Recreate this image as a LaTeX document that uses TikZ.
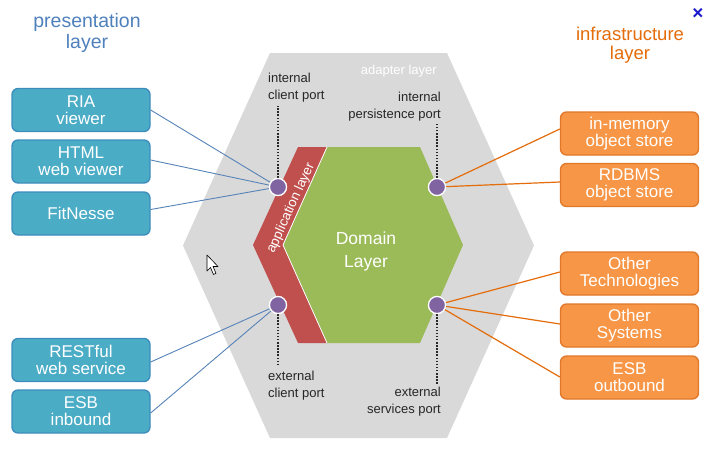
\documentclass[tikz,border=0pt]{standalone}
\usepackage{fontspec}
\setmainfont{Liberation Sans}
\usetikzlibrary{shapes.geometric}
\definecolor{hexgray}{HTML}{D9D9D9}
\definecolor{domgreen}{HTML}{9BBB59}
\definecolor{appred}{HTML}{C0504D}
\definecolor{portpurple}{HTML}{8064A2}
\definecolor{bluefill}{HTML}{4BACC6}
\definecolor{blueedge}{HTML}{3C8DBC}
\definecolor{orangefill}{HTML}{F79646}
\definecolor{orangeedge}{HTML}{E0782A}
\definecolor{blueline}{HTML}{5683B8}
\definecolor{orangeline}{HTML}{E46C0A}
\definecolor{titleblue}{HTML}{4F81BD}
\definecolor{titleorange}{HTML}{E46C0A}
\definecolor{closeblue}{HTML}{1A1ACC}
\tikzset{
  boxbase/.style={rounded corners=6pt, line width=1.3pt, minimum width=138pt, minimum height=43pt,
    text=white, align=center, font=\fontsize{17}{17}\selectfont, inner sep=0pt},
  bluebox/.style={boxbase, fill=bluefill, draw=blueedge},
  orangebox/.style={boxbase, fill=orangefill, draw=orangeedge},
  port/.style={circle, fill=portpurple, draw=white, line width=1.2pt, minimum size=17pt, inner sep=0pt},
  bluecon/.style={draw=blueline, line width=0.9pt},
  orangecon/.style={draw=orangeline, line width=1.2pt},
  portlabel/.style={font=\fontsize{13}{17}\selectfont, inner sep=0pt, text=black!85},
  dotline/.style={line width=1.3pt, dash pattern=on 1.5pt off 1.6pt, black!85},
  title/.style={align=center, inner sep=0pt}
}
\begin{document}
\begin{tikzpicture}[x=1pt,y=-1pt]
\useasboundingbox (0,0) rectangle (712,453);
\fill[white] (0,0) rectangle (712,453);
% adapter hexagon
\fill[hexgray] (270,53) -- (447,53) -- (534,245.5) -- (447,438) -- (270,438) -- (183,245.5) -- cycle;
\node[font=\fontsize{13}{14}\selectfont, text=white, anchor=base east, inner sep=0pt] (adapter) at (437,74) {adapter layer};
% domain hexagon
\fill[domgreen] (327,147) -- (420,147) -- (463,245) -- (420,343) -- (327,343) -- (283,245) -- cycle;
% application layer band
\fill[appred] (298,147) -- (327,147) -- (283,245) -- (327,343) -- (298,343) -- (253,245) -- cycle;
\draw[white, line width=0.8pt] (327,147) -- (283,245) -- (327,343);
\node[rotate=65.5, text=white, font=\fontsize{13.5}{15}\selectfont, inner sep=0pt] (applabel) at (291,208) {application layer};
\node[text=white, align=center, font=\fontsize{17.5}{23}\selectfont, inner sep=0pt] (domain) at (366,251) {Domain\\Layer};
% ports
\node[port] (pTL) at (278,187) {};
\node[port] (pTR) at (437,187) {};
\node[port] (pBL) at (278,305) {};
\node[port] (pBR) at (437,305) {};
% port labels
\node[portlabel, align=left, anchor=north west] (lTL) at (268,73) {internal\\client port};
\node[portlabel, align=right, anchor=north east] (lTR) at (441,92) {internal\\persistence port};
\node[portlabel, align=left, anchor=north west] (lBL) at (268,371) {external\\client port};
\node[portlabel, align=right, anchor=north east] (lBR) at (441,387) {external\\services port};
\coordinate (dTL) at (278,106);
\coordinate (dTR) at (437,124);
\coordinate (dBL) at (278,366);
\coordinate (dBR) at (437,384);
\draw[dotline] (pTL.north) -- (dTL);
\draw[dotline] (pTR.north) -- (dTR);
\draw[dotline] (pBL.south) -- (dBL);
\draw[dotline] (pBR.south) -- (dBR);
% titles
\node[title, text=titleblue, font=\fontsize{19.5}{20.5}\selectfont] (ptitle) at (87,33) {presentation\\layer};
\node[title, text=titleorange, font=\fontsize{18.5}{19}\selectfont] (ititle) at (630,45) {infrastructure\\layer};
\node[text=closeblue, font=\fontsize{19}{19}\selectfont\bfseries, inner sep=0pt] (close) at (698,14) {×};
% left boxes
\node[bluebox] (ria) at (81,110) {RIA\\viewer};
\node[bluebox] (html) at (81,161.5) {HTML\\web viewer};
\node[bluebox] (fit) at (81,213.5) {FitNesse};
\node[bluebox] (rest) at (81,360) {RESTful\\web service};
\node[bluebox] (esbin) at (81,411.5) {ESB\\inbound};
% right boxes
\node[orangebox] (mem) at (629.5,133.5) {in-memory\\object store};
\node[orangebox] (rdb) at (629.5,185) {RDBMS\\object store};
\node[orangebox] (tech) at (629.5,273.5) {Other\\Technologies};
\node[orangebox] (sys) at (629.5,325.5) {Other\\Systems};
\node[orangebox] (esbout) at (629.5,377.5) {ESB\\outbound};
% connectors
\draw[bluecon] (ria.east) -- (pTL);
\draw[bluecon] ([yshift=1.5pt]html.east) -- (pTL);
\draw[bluecon] ([yshift=4pt]fit.east) -- (pTL);
\draw[bluecon] ([yshift=-2pt]rest.east) -- (pBL);
\draw[bluecon] ([yshift=-1.5pt]esbin.east) -- (pBL);
\draw[orangecon] ([yshift=4.5pt]mem.west) -- (pTR);
\draw[orangecon] ([yshift=3pt]rdb.west) -- (pTR);
\draw[orangecon] ([yshift=1.5pt]tech.west) -- (pBR);
\draw[orangecon] ([yshift=1.5pt]sys.west) -- (pBR);
\draw[orangecon] ([yshift=0.5pt]esbout.west) -- (pBR);
\node[port] at (pTL) {};
\node[port] at (pTR) {};
\node[port] at (pBL) {};
\node[port] at (pBR) {};
% mouse cursor
\filldraw[fill=white, draw=black, line width=0.6pt, line join=round]
  (207,255) -- (207,271) -- (210.5,267.5) -- (213.5,274.5) -- (216,273.3) -- (213,266.5) -- (218,266.5) -- cycle;
\end{tikzpicture}
\end{document}
